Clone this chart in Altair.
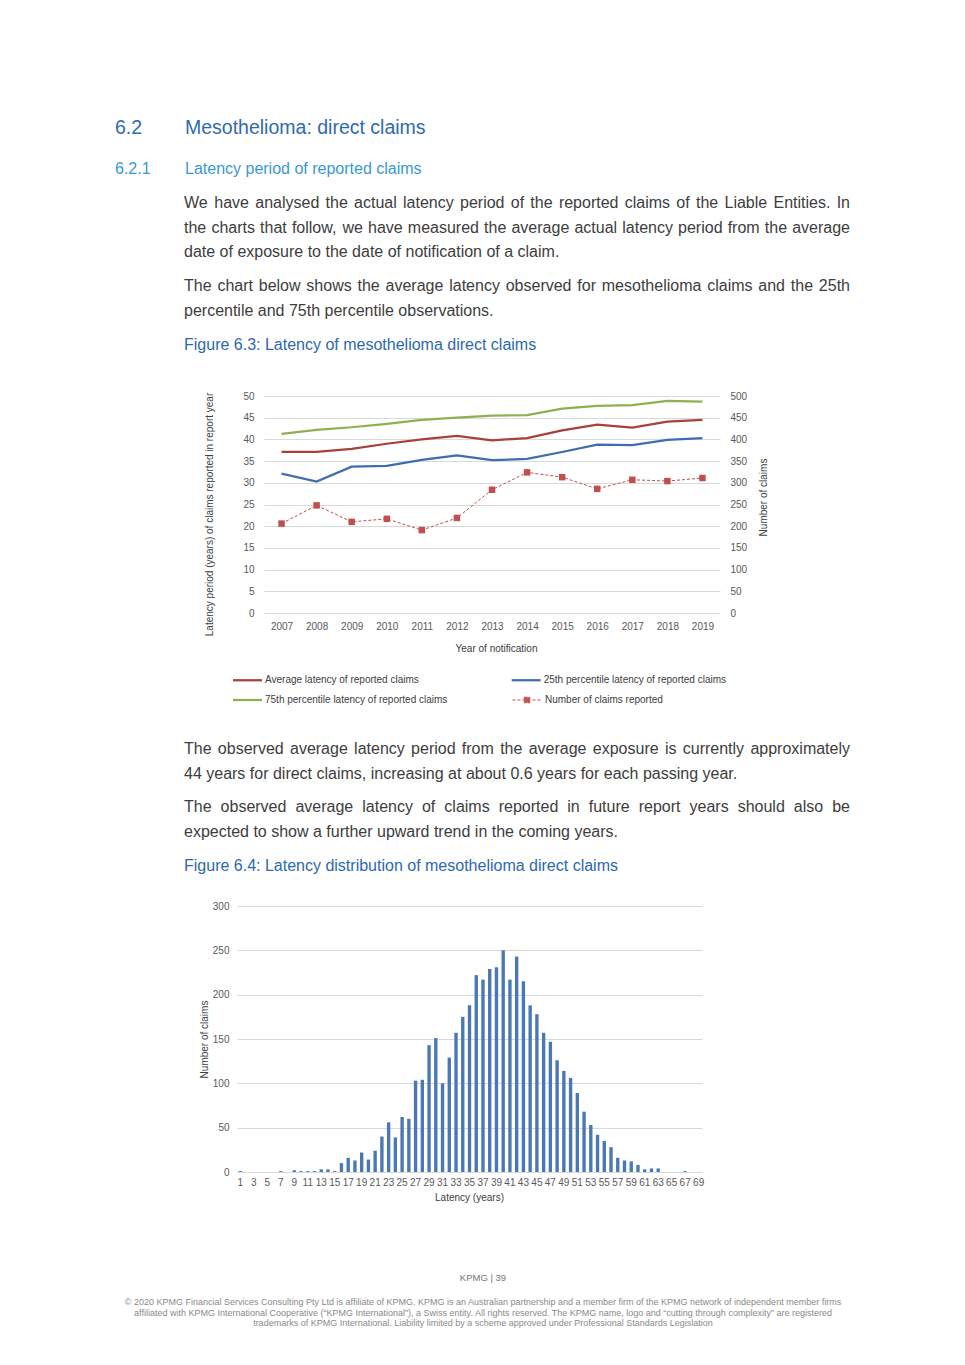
import altair as alt
import pandas as pd

# ------------------------------------------------------------------ data
years = [2007, 2008, 2009, 2010, 2011, 2012, 2013, 2014, 2015, 2016, 2017, 2018, 2019]
avg_latency = [37.1, 37.1, 37.8, 39.0, 40.0, 40.8, 39.8, 40.3, 42.1, 43.4, 42.7, 44.1, 44.5]
p25_latency = [32.1, 30.3, 33.7, 33.9, 35.3, 36.3, 35.2, 35.5, 37.1, 38.8, 38.7, 39.9, 40.3]
p75_latency = [41.3, 42.2, 42.8, 43.6, 44.5, 45.0, 45.5, 45.6, 47.1, 47.7, 47.9, 48.9, 48.7]
claims_reported = [206, 248, 210, 217, 191, 219, 284, 324, 313, 286, 307, 304, 311]
series_names = [
    "Average latency of reported claims",
    "25th percentile latency of reported claims",
    "75th percentile latency of reported claims",
    "Number of claims reported",
]
series_colors = ["#a8403c", "#3f6db0", "#8fb04f", "#c0504d"]

latency_years = list(range(1, 70))
latency_counts = [
    1, 0, 0, 0, 0, 0, 1, 0, 2, 1,
    1, 1, 3, 3, 1, 10, 16, 13, 22, 14,
    24, 40, 56, 39, 62, 60, 103, 104, 143, 151,
    100, 129, 157, 175, 188, 222, 217, 229, 231, 250,
    217, 243, 215, 188, 178, 157, 147, 126, 114, 106,
    89, 68, 53, 42, 35, 28, 16, 13, 12, 8,
    3, 4, 4, 0, 0, 0, 1, 0, 0,
]
latency_tick_labels = list(range(1, 70, 2))

heading = ["6.2", "Mesothelioma: direct claims"]
subheading = ["6.2.1", "Latency period of reported claims"]
para1 = [
    "We have analysed the actual latency period of the reported claims of the Liable Entities. In",
    "the charts that follow, we have measured the average actual latency period from the average",
    "date of exposure to the date of notification of a claim.",
]
para2 = [
    "The chart below shows the average latency observed for mesothelioma claims and the 25th",
    "percentile and 75th percentile observations.",
]
caption1 = "Figure 6.3: Latency of mesothelioma direct claims"
para3 = [
    "The observed average latency period from the average exposure is currently approximately",
    "44 years for direct claims, increasing at about 0.6 years for each passing year.",
]
para4 = [
    "The observed average latency of claims reported in future report years should also be",
    "expected to show a further upward trend in the coming years.",
]
caption2 = "Figure 6.4: Latency distribution of mesothelioma direct claims"
page_no = "KPMG  |  39"
footer = [
    "\u00a9 2020 KPMG Financial Services Consulting Pty Ltd is affiliate of KPMG. KPMG is an Australian partnership and a member firm of the KPMG network of independent member firms",
    "affiliated with KPMG International Cooperative (\u201cKPMG International\u201d), a Swiss entity. All rights reserved. The KPMG name, logo and \u201ccutting through complexity\u201d are registered",
    "trademarks of KPMG International. Liability limited by a scheme approved under Professional Standards Legislation",
]

# ------------------------------------------------------------------ styling / layout
FONT = "Liberation Sans"
PAGE_W = 949
BODY = "#3d3d3d"
BLUE_H = "#2e6bb0"
BLUE_S = "#3a98d6"
BLUE_C = "#2c69b0"
AXIS_TXT = "#595959"
GRID = "#d9d9d9"

# Helvetica / Arial advance widths (per 1000 em) for justification
_W = {" ": 278, "!": 278, "\"": 355, "#": 556, "$": 556, "%": 889, "&": 667, "'": 191,
      "(": 333, ")": 333, "*": 389, "+": 584, ",": 278, "-": 333, ".": 278, "/": 278,
      ":": 278, ";": 278, "?": 556, "@": 1015,
      "A": 667, "B": 667, "C": 722, "D": 722, "E": 667, "F": 611, "G": 778, "H": 722, "I": 278,
      "J": 500, "K": 667, "L": 556, "M": 833, "N": 722, "O": 778, "P": 667, "Q": 778, "R": 722,
      "S": 667, "T": 611, "U": 722, "V": 667, "W": 944, "X": 667, "Y": 667, "Z": 611,
      "a": 556, "b": 556, "c": 500, "d": 556, "e": 556, "f": 278, "g": 556, "h": 556, "i": 222,
      "j": 222, "k": 500, "l": 222, "m": 833, "n": 556, "o": 556, "p": 556, "q": 556, "r": 333,
      "s": 500, "t": 278, "u": 556, "v": 500, "w": 722, "x": 500, "y": 500, "z": 500}
for _d in "0123456789":
    _W[_d] = 556


def text_width(s, size):
    return sum(_W.get(c, 556) for c in s) * size / 1000.0


def paragraph_rows(lines, x0, x1, y0, dy, size, color):
    rows = []
    for i, line in enumerate(lines):
        y = y0 + i * dy
        if i == len(lines) - 1:
            rows.append((line, x0, y, size, color))
            continue
        words = line.split(" ")
        widths = [text_width(w, size) for w in words]
        gap = (x1 - x0 - sum(widths)) / (len(words) - 1)
        x = x0
        for w, ww in zip(words, widths):
            rows.append((w, x, y, size, color))
            x += ww + gap
    return rows


def text_panel(rows, height, align="left"):
    df = pd.DataFrame(rows, columns=["text", "x", "y", "size", "color"])
    return alt.Chart(df).mark_text(align=align, baseline="alphabetic", font=FONT).encode(
        x=alt.X("x:Q", scale=None, axis=None),
        y=alt.Y("y:Q", scale=None, axis=None),
        text="text:N",
        size=alt.Size("size:Q", scale=None, legend=None),
        color=alt.Color("color:N", scale=None, legend=None),
    ).properties(width=PAGE_W, height=height)


X0, X1 = 176, 842

# ---- row 1 : headings + paragraphs above chart 1
rows1 = [
    (heading[0], 107, 126, 19.5, BLUE_H),
    (heading[1], 177, 126, 19.5, BLUE_H),
    (subheading[0], 107, 166, 16, BLUE_S),
    (subheading[1], 177, 166, 16, BLUE_S),
    (caption1, X0, 342, 16, BLUE_C),
]
rows1 += paragraph_rows(para1, X0, X1, 200.3, 24.5, 16, BODY)
rows1 += paragraph_rows(para2, X0, X1, 283.3, 24.5, 16, BODY)
panel1 = text_panel(rows1, 388)

# ---- row 2 : chart 1
lat_df = pd.DataFrame({
    "year": years * 3,
    "series": [series_names[0]] * 13 + [series_names[1]] * 13 + [series_names[2]] * 13,
    "value": avg_latency + p25_latency + p75_latency,
})
cnt_df = pd.DataFrame({"year": years, "series": [series_names[3]] * 13, "claims": claims_reported})

LINE_PATH = "M-3.625,0H3.625"
SQ_PATH = "M-3.625,0H3.625M-0.7,-0.7H0.7V0.7H-0.7Z"
legend_lat = alt.Legend(
    title=None, orient="none", legendX=225, legendY=278.5, columns=2, direction="horizontal", padding=0,
    symbolType=LINE_PATH, symbolStrokeWidth=2.25, symbolSize=64, symbolOffset=9,
    labelOffset=12, labelFontSize=10, labelColor="#404040", labelFont=FONT, labelLimit=400,
    columnPadding=58.7, rowPadding=9,
)
legend_cnt = alt.Legend(
    title=None, orient="none", legendX=505, legendY=299, padding=0,
    symbolType=SQ_PATH, symbolStrokeWidth=1, symbolSize=64, symbolOffset=9,
    symbolFillColor=series_colors[3], symbolStrokeColor=series_colors[3], symbolDash=[3, 2],
    labelOffset=13, labelFontSize=10, labelColor="#404040", labelFont=FONT, labelLimit=400,
)

x1_enc = alt.X(
    "year:O",
    scale=alt.Scale(type="point", range=[256, 712], padding=0.5),
    axis=alt.Axis(title="Year of notification", labelAngle=0, ticks=False, domain=False, grid=False,
                  labelPadding=8, labelFontSize=10, labelColor=AXIS_TXT,
                  titleFontSize=10, titleFontWeight="normal", titleColor="#404040",
                  titleX=488, titleY=35, titleAlign="center", titleBaseline="middle"),
)
left_axis = alt.Axis(
    orient="left", offset=-256, values=list(range(0, 51, 5)), grid=True, gridColor=GRID, gridWidth=1,
    domain=False, ticks=False, labelPadding=10, labelFontSize=10, labelColor=AXIS_TXT,
    title="Latency period (years) of claims reported in report year", titleFontSize=10,
    titleFontWeight="normal", titleColor="#404040", titleAngle=270, titleX=-55, titleY=118,
    titleAlign="center", titleBaseline="middle",
)
right_axis = alt.Axis(
    orient="right", offset=-237, values=list(range(0, 501, 50)), grid=False,
    domain=False, ticks=False, labelPadding=10, labelFontSize=10, labelColor=AXIS_TXT,
    title="Number of claims", titleFontSize=10, titleFontWeight="normal", titleColor="#404040",
    titleAngle=270, titleX=43, titleY=101, titleAlign="center", titleBaseline="middle",
)

lat_lines = alt.Chart(lat_df).mark_line(strokeWidth=2.25).encode(
    x=x1_enc,
    y=alt.Y("value:Q", scale=alt.Scale(domain=[0, 50]), axis=left_axis),
    color=alt.Color("series:N", scale=alt.Scale(domain=series_names[:3], range=series_colors[:3]),
                    legend=legend_lat),
)
y_cnt = alt.Y("claims:Q", scale=alt.Scale(domain=[0, 500]), axis=right_axis)
cnt_line = alt.Chart(cnt_df).mark_line(strokeWidth=1, color=series_colors[3]).encode(
    x=x1_enc, y=y_cnt,
    strokeDash=alt.StrokeDash("series:N", scale=alt.Scale(domain=series_names[3:], range=[[3, 2]]),
                              legend=legend_cnt),
)
cnt_pts = alt.Chart(cnt_df).mark_square(size=42, color=series_colors[3], opacity=1).encode(x=x1_enc, y=y_cnt)
chart1 = alt.layer(lat_lines, alt.layer(cnt_line, cnt_pts)).resolve_scale(y="independent").properties(
    width=PAGE_W, height=217
)

# ---- row 3 : paragraphs between charts
rows3 = [(caption2, X0, 258, 16, BLUE_C)]
rows3 += paragraph_rows(para3, X0, X1, 141.3, 24.5, 16, BODY)
rows3 += paragraph_rows(para4, X0, X1, 199.3, 24.5, 16, BODY)
panel3 = text_panel(rows3, 293)

# ---- row 4 : chart 2
dist_df = pd.DataFrame({"latency": latency_years, "claims": latency_counts})
chart2 = alt.Chart(dist_df).mark_bar(color="#4a78b5").encode(
    x=alt.X("latency:O",
            scale=alt.Scale(type="band", range=[229, 694], paddingInner=0.5, paddingOuter=0.25),
            axis=alt.Axis(values=latency_tick_labels, labelAngle=0, ticks=False, domain=False, grid=False,
                          labelOverlap=False, labelPadding=5, labelFontSize=10, labelColor=AXIS_TXT,
                          title="Latency (years)", titleFontSize=10, titleFontWeight="normal",
                          titleColor="#404040", titleX=461, titleY=25, titleAlign="center",
                          titleBaseline="middle")),
    y=alt.Y("claims:Q", scale=alt.Scale(domain=[0, 300]),
            axis=alt.Axis(orient="left", offset=-229, values=list(range(0, 301, 50)), grid=True,
                          gridColor=GRID, gridWidth=1, domain=False, ticks=False, labelPadding=8,
                          labelFontSize=10, labelColor=AXIS_TXT, title="Number of claims",
                          titleFontSize=10, titleFontWeight="normal", titleColor="#404040",
                          titleAngle=270, titleX=-33, titleY=133, titleAlign="center",
                          titleBaseline="middle")),
).properties(width=PAGE_W, height=266)

# ---- row 5 : footer
rows5 = [(page_no, 475, 109, 9.5, "#777777")]
for i, line in enumerate(footer):
    rows5.append((line, 475, 133 + i * 10.5, 9, "#8a8a8a"))
panel5 = text_panel(rows5, 185, align="center")

chart = alt.vconcat(panel1, chart1, panel3, chart2, panel5, spacing=0, bounds="flush").resolve_scale(
    color="independent", strokeDash="independent", size="independent"
).resolve_legend(
    color="independent", strokeDash="independent", size="independent"
).properties(
    padding=0, background="white"
).configure(font=FONT).configure_view(strokeWidth=0, stroke="transparent")

chart.save("out.html", embed_options={"renderer": "svg", "actions": False})
